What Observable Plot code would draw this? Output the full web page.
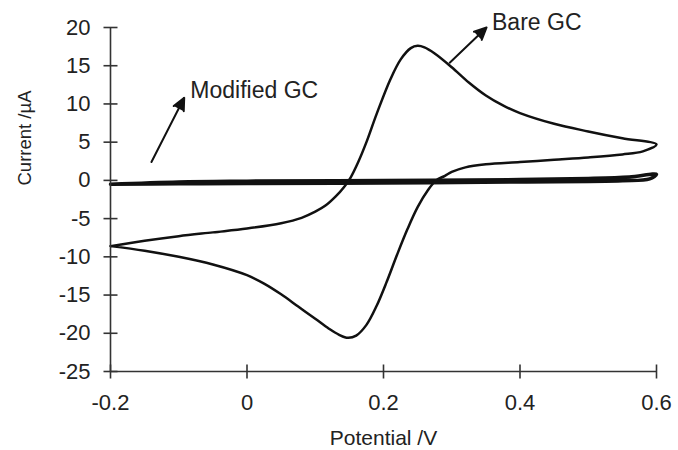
<!DOCTYPE html>
<html>
<head>
<meta charset="utf-8">
<script src="https://cdn.jsdelivr.net/npm/d3@7"></script>
<script src="https://cdn.jsdelivr.net/npm/@observablehq/plot@0.6"></script>
<style>
  html, body { margin: 0; padding: 0; background: #fff; }
</style>
</head>
<body>
<div id="chart"></div>
<script>
// Tick values
const xTicks = [-0.2, 0, 0.2, 0.4, 0.6];
const yTicks = [-25, -20, -15, -10, -5, 0, 5, 10, 15, 20];

// Bare GC cyclic voltammogram [potential V, current µA]
const bareForward = [
  [-0.2, -8.6], [-0.15, -7.9], [-0.1, -7.3], [-0.05, -6.8], [0, -6.3], [0.05, -5.6],
  [0.08, -4.9], [0.1, -4.1], [0.115, -3.3], [0.13, -2.1], [0.142, -0.9], [0.152, 0.4],
  [0.163, 2.4], [0.175, 5.0], [0.19, 8.7], [0.21, 13.2], [0.225, 15.8], [0.24, 17.3],
  [0.25, 17.6], [0.26, 17.4], [0.275, 16.6], [0.3, 14.8], [0.325, 12.8], [0.35, 11.1],
  [0.375, 9.8], [0.4, 8.8], [0.45, 7.4], [0.5, 6.4], [0.55, 5.5], [0.6, 4.7]
];
const bareReverse = [
  [0.58, 3.8], [0.55, 3.4], [0.5, 3.0], [0.45, 2.7], [0.4, 2.4], [0.35, 2.1], [0.32, 1.7],
  [0.3, 1.1], [0.29, 0.6], [0.277, 0.0], [0.265, -1.3], [0.25, -3.5], [0.235, -6.4],
  [0.22, -9.7], [0.205, -13.2], [0.19, -16.4], [0.175, -18.9], [0.16, -20.3], [0.148, -20.6],
  [0.135, -20.2], [0.12, -19.4], [0.1, -18.1], [0.075, -16.5], [0.05, -14.9], [0.025, -13.5],
  [0, -12.4], [-0.05, -11.0], [-0.1, -10.0], [-0.15, -9.2], [-0.2, -8.6]
];

// Modified GC cyclic voltammogram [potential V, current µA]
const modifiedForward = [
  [-0.2, -0.5], [-0.1, -0.2], [0, -0.1], [0.2, 0.0], [0.4, 0.1], [0.5, 0.25], [0.56, 0.45], [0.6, 0.8]
];
const modifiedReverse = [
  [0.59, 0.2], [0.55, -0.05], [0.4, -0.2], [0.2, -0.35], [0, -0.4], [-0.1, -0.45], [-0.2, -0.5]
];

// Annotations
const labelTexts = ["Modified GC", "Bare GC"];
const labelV = [-0.083, 0.359];
const labelI = [11.8, 20.6];
const arrowFromV = [-0.140, 0.297];
const arrowFromI = [2.4, 15.4];
const arrowToV = [-0.092, 0.351];
const arrowToI = [10.8, 20.0];

const bareLoop = bareForward.concat(bareReverse).map(([v, i]) => ({v, i}));
const modLoop = modifiedForward.concat(modifiedReverse).map(([v, i]) => ({v, i}));
const labels = labelTexts.map((t, k) => ({t, v: labelV[k], i: labelI[k]}));
const arrows = labelTexts.map((t, k) => ({x1: arrowFromV[k], y1: arrowFromI[k], x2: arrowToV[k], y2: arrowToI[k]}));

// Tick symbols that cross the axis line (both sides)
const hTick = {draw(ctx, size) { ctx.moveTo(-7, 0); ctx.lineTo(7, 0); }};
const vTick = {draw(ctx, size) { ctx.moveTo(0, -7); ctx.lineTo(0, 7); }};

const chart = Plot.plot({
  width: 678,
  height: 450,
  marginLeft: 110,
  marginRight: 22,
  marginTop: 27,
  marginBottom: 79,
  x: {domain: [-0.2, 0.6]},
  y: {domain: [-25, 20]},
  style: {fontFamily: "'Liberation Sans', Arial, sans-serif", fontSize: "22px", color: "#222", background: "#fff"},
  marks: [
    Plot.line(modLoop, {x: "v", y: "i", stroke: "#111", strokeWidth: 3.5, curve: "catmull-rom"}),
    Plot.line(bareLoop, {x: "v", y: "i", stroke: "#111", strokeWidth: 2.5, curve: "catmull-rom"}),
    Plot.ruleX([-0.2], {stroke: "#333", strokeWidth: 1.6}),
    Plot.ruleY([-25], {stroke: "#333", strokeWidth: 1.6}),
    Plot.dot(yTicks, {x: () => -0.2, y: d => d, symbol: hTick, fill: "none", stroke: "#333", strokeWidth: 1.6}),
    Plot.dot(xTicks, {x: d => d, y: () => -25, symbol: vTick, fill: "none", stroke: "#333", strokeWidth: 1.6}),
    Plot.axisY({ticks: yTicks, tickFormat: d => String(d), tickSize: 0, tickPadding: 20, label: null, fontSize: 22}),
    Plot.axisX({ticks: xTicks, tickFormat: d => String(d), tickSize: 0, tickPadding: 23, label: null, fontSize: 22}),
    Plot.text(["Current /µA"], {frameAnchor: "left", rotate: -90, dx: -85, dy: -14, fontSize: 18.5, fill: "#222"}),
    Plot.text(["Potential /V"], {frameAnchor: "bottom", lineAnchor: "middle", dy: 67, fontSize: 21, fill: "#222"}),
    Plot.arrow(arrows, {x1: "x1", y1: "y1", x2: "x2", y2: "y2", stroke: "#111", strokeWidth: 2, headLength: 10, headAngle: 50}),
    Plot.text(labels, {x: "v", y: "i", text: "t", textAnchor: "start", fontSize: 23, fill: "#222"})
  ]
});

chart.querySelectorAll('g[aria-label="arrow"] path').forEach(p => p.setAttribute("fill", "#111"));
document.getElementById("chart").appendChild(chart);
</script>
</body>
</html>
